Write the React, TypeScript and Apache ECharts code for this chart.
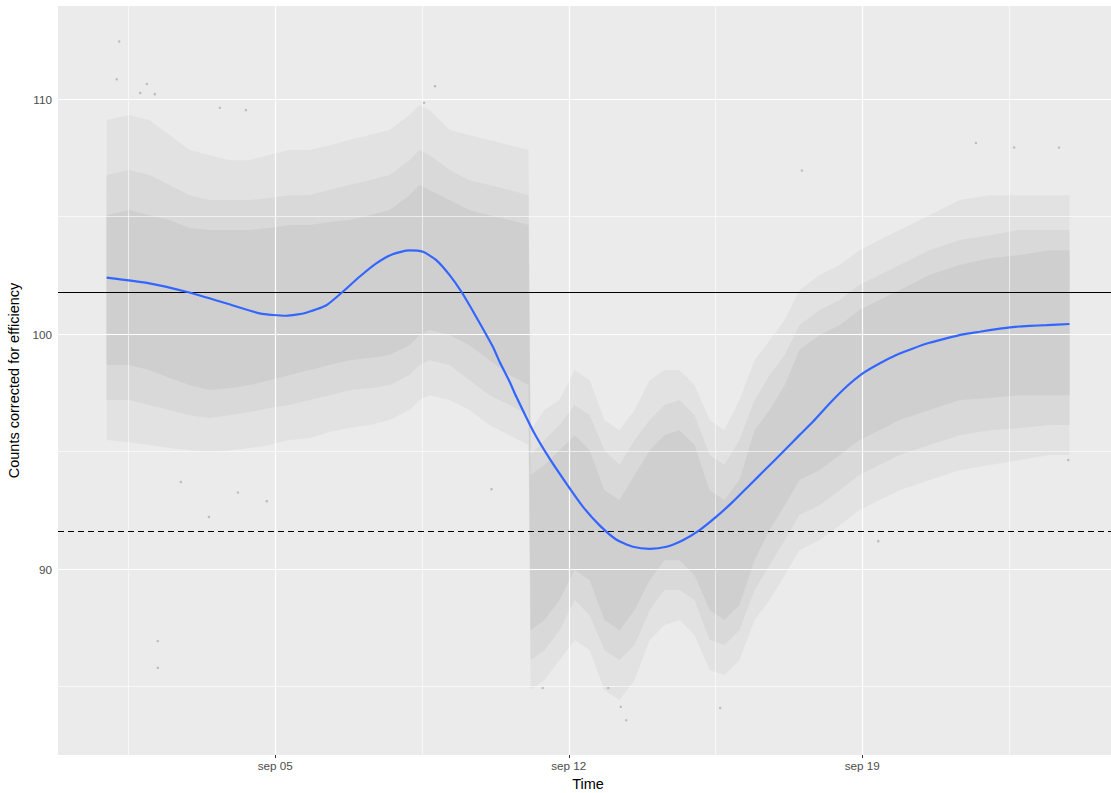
import { useEffect, useRef } from 'react';
import * as echarts from 'echarts';

// ---- axes (x = day of September, 1 = Sep 1 00:00) ----
const xMajorTicks = [5, 12, 19];
const xMajorLabels = ['sep 05', 'sep 12', 'sep 19'];
const xMinorGrid = [1.5, 8.5, 15.5, 22.5];
const yMajorTicks = [90, 100, 110];
const yMinorGrid = [85, 95, 105];
const xRange = [-0.18, 24.93];
const yRange = [82.09, 113.96];

// ---- horizontal reference lines ----
const referenceLevel = 101.79;
const thresholdLevel = 91.62;

// ---- smoothed trend (blue) ----
const smoothX = [0.98, 2.0, 2.88, 3.83, 4.63, 5.26, 5.74, 6.22, 6.61, 7.01, 7.41, 7.8, 8.2, 8.52, 8.84, 9.16, 9.44, 9.79, 10.19, 10.35, 10.59, 10.75, 11.14, 11.54, 11.94, 12.34, 12.73, 13.13, 13.53, 13.93, 14.33, 14.72, 15.12, 15.52, 15.91, 16.31, 16.71, 17.11, 17.5, 17.82, 18.22, 18.62, 19.01, 19.41, 19.81, 20.21, 20.6, 21.0, 21.4, 21.8, 22.2, 22.59, 22.99, 23.39, 23.94];
const smoothY = [102.4, 102.16, 101.8, 101.31, 100.88, 100.78, 100.91, 101.23, 101.8, 102.44, 103.01, 103.4, 103.56, 103.5, 103.15, 102.51, 101.8, 100.74, 99.46, 98.82, 97.97, 97.33, 95.91, 94.71, 93.65, 92.65, 91.87, 91.26, 90.95, 90.86, 90.95, 91.23, 91.66, 92.23, 92.86, 93.57, 94.28, 94.99, 95.7, 96.27, 97.05, 97.76, 98.33, 98.75, 99.11, 99.39, 99.63, 99.82, 99.99, 100.1, 100.21, 100.3, 100.35, 100.38, 100.43];

// ---- point cloud envelopes ----
const cloudX = [0.98, 1.52, 2.0, 2.48, 2.96, 3.43, 3.91, 4.39, 4.86, 5.34, 5.82, 6.29, 6.77, 7.25, 7.73, 8.2, 8.44, 8.68, 9.16, 9.63, 10.11, 10.59, 11.04, 11.09, 11.42, 11.78, 12.14, 12.5, 12.85, 13.21, 13.57, 13.93, 14.28, 14.64, 15.0, 15.36, 15.71, 16.07, 16.43, 16.79, 17.15, 17.5, 17.98, 18.46, 18.93, 19.41, 19.89, 20.6, 21.32, 22.04, 22.75, 23.47, 23.94];
const cloudOuterHi = [109.11, 109.32, 109.11, 108.47, 107.83, 107.62, 107.4, 107.4, 107.62, 107.83, 107.83, 108.04, 108.26, 108.47, 108.68, 109.32, 109.74, 109.53, 108.68, 108.47, 108.26, 108.04, 107.83, 95.91, 96.77, 97.19, 98.47, 98.04, 96.34, 95.91, 96.77, 98.04, 98.47, 98.47, 97.83, 96.34, 95.91, 97.19, 98.89, 99.74, 100.6, 101.87, 102.51, 102.94, 103.57, 104.0, 104.43, 105.06, 105.7, 105.91, 105.91, 105.91, 105.91];
const cloudMidHi = [106.77, 106.98, 106.77, 106.34, 105.91, 105.7, 105.7, 105.7, 105.79, 105.91, 105.91, 106.13, 106.34, 106.55, 106.77, 107.4, 107.83, 107.62, 106.98, 106.55, 106.34, 106.13, 105.91, 94.85, 95.49, 96.13, 96.98, 96.55, 95.06, 94.43, 95.49, 96.34, 96.98, 97.19, 96.55, 94.85, 94.43, 95.49, 97.19, 98.26, 99.11, 100.38, 101.02, 101.45, 102.09, 102.51, 102.94, 103.57, 104.0, 104.21, 104.43, 104.43, 104.43];
const cloudCoreHi = [105.06, 105.28, 105.06, 104.85, 104.51, 104.43, 104.43, 104.43, 104.51, 104.64, 104.64, 104.77, 104.85, 105.06, 105.28, 105.91, 106.34, 106.13, 105.7, 105.28, 105.06, 104.85, 104.64, 94.0, 94.43, 95.06, 95.7, 95.06, 93.36, 92.94, 94.0, 95.06, 95.7, 95.91, 95.28, 93.36, 92.94, 93.79, 95.91, 96.77, 97.83, 99.32, 99.96, 100.38, 101.02, 101.45, 101.87, 102.51, 102.94, 103.23, 103.36, 103.57, 103.57];
const cloudCoreLo = [98.68, 98.68, 98.47, 98.13, 97.83, 97.62, 97.7, 97.83, 98.04, 98.26, 98.47, 98.68, 98.89, 98.98, 99.11, 99.53, 99.96, 100.17, 99.96, 99.53, 98.89, 98.26, 97.83, 87.4, 87.83, 88.68, 89.96, 89.53, 87.83, 87.4, 88.26, 89.53, 90.38, 90.38, 89.74, 88.26, 87.83, 88.47, 90.38, 91.66, 92.72, 93.79, 94.21, 94.85, 95.49, 95.91, 96.34, 96.77, 97.19, 97.28, 97.4, 97.4, 97.4];
const cloudMidLo = [97.19, 97.19, 96.98, 96.77, 96.55, 96.43, 96.55, 96.68, 96.85, 96.98, 97.19, 97.4, 97.62, 97.7, 97.83, 98.26, 98.68, 98.89, 98.68, 98.04, 97.4, 96.98, 96.55, 86.13, 86.55, 87.4, 88.68, 88.04, 86.55, 86.13, 86.77, 88.26, 89.11, 89.11, 88.68, 86.98, 86.77, 87.4, 89.11, 90.17, 91.23, 92.3, 92.72, 93.36, 94.0, 94.43, 94.85, 95.28, 95.7, 95.91, 96.0, 96.13, 96.13];
const cloudOuterLo = [95.49, 95.4, 95.28, 95.15, 95.06, 94.98, 95.06, 95.15, 95.28, 95.49, 95.57, 95.83, 96.0, 96.13, 96.34, 96.77, 97.19, 97.4, 97.19, 96.77, 96.13, 95.7, 95.28, 84.85, 85.28, 86.13, 86.98, 86.55, 84.85, 84.43, 85.28, 86.98, 87.62, 87.83, 87.19, 85.7, 85.49, 86.13, 87.83, 88.68, 89.74, 90.81, 91.23, 91.87, 92.51, 92.94, 93.36, 93.79, 94.21, 94.43, 94.64, 94.85, 94.85];

// ---- isolated outlying points ----
const outlierX = [1.28, 1.22, 1.78, 1.94, 2.13, 2.2, 2.2, 2.75, 3.42, 4.11, 4.8, 3.68, 4.3, 8.81, 8.55, 10.16, 11.38, 12.94, 13.24, 13.37, 15.61, 17.56, 19.38, 21.71, 22.62, 23.69, 23.91];
const outlierY = [112.45, 110.84, 110.26, 110.64, 110.21, 86.94, 85.8, 93.71, 92.22, 93.26, 92.89, 109.63, 109.53, 110.55, 109.84, 93.4, 84.94, 84.94, 84.14, 83.57, 84.09, 106.96, 91.19, 108.13, 107.94, 107.94, 94.64];

export default function App() {
  const ref = useRef<HTMLDivElement>(null);

  useEffect(() => {
    const chart = echarts.init(ref.current as HTMLDivElement, null, { renderer: 'svg' });
    const font = '"Liberation Sans", Arial, Helvetica, sans-serif';

    const bands = [
      { lo: cloudOuterLo, hi: cloudOuterHi, color: '#e2e2e2' },
      { lo: cloudMidLo, hi: cloudMidHi, color: '#d9d9d9' },
      { lo: cloudCoreLo, hi: cloudCoreHi, color: '#cfcfcf' },
    ];

    const white = (w: number) => ({ color: '#ffffff', width: w, type: 'solid' });
    const gridLines = [
      ...yMinorGrid.map((v) => ({ yAxis: v, lineStyle: white(0.6) })),
      ...xMinorGrid.map((v) => ({ xAxis: v, lineStyle: white(0.6) })),
      ...yMajorTicks.map((v) => ({ yAxis: v, lineStyle: white(1.2) })),
      ...xMajorTicks.map((v) => ({ xAxis: v, lineStyle: white(1.2) })),
    ];

    const option: any = {
      animation: false,
      backgroundColor: '#ffffff',
      textStyle: { fontFamily: font },
      grid: {
        left: 58,
        right: 0,
        top: 6,
        bottom: 38,
        show: true,
        backgroundColor: '#EBEBEB',
        borderWidth: 0,
        outerBoundsMode: 'none',
      },
      xAxis: {
        type: 'value',
        min: xRange[0],
        max: xRange[1],
        axisLine: { show: false },
        axisTick: { show: true, customValues: xMajorTicks, length: 3, lineStyle: { color: '#333333', width: 1 } },
        axisLabel: {
          customValues: xMajorTicks,
          formatter: (v: number) => {
            const i = xMajorTicks.indexOf(Math.round(v));
            return i >= 0 ? xMajorLabels[i] : '';
          },
          color: '#4D4D4D',
          fontSize: 11.7,
          fontFamily: font,
          margin: 4.5,
        },
        splitLine: { show: false },
        name: 'Time',
        nameLocation: 'middle',
        nameGap: 18,
        nameTextStyle: { color: '#000000', fontSize: 14.5, fontFamily: font, padding: [0, 0, 0, 7] },
      },
      yAxis: {
        type: 'value',
        min: yRange[0],
        max: yRange[1],
        axisLine: { show: false },
        axisTick: { show: true, customValues: yMajorTicks, length: 3, lineStyle: { color: '#333333', width: 1 } },
        axisLabel: {
          customValues: yMajorTicks,
          formatter: (v: number) => String(Math.round(v)),
          color: '#4D4D4D',
          fontSize: 11.7,
          fontFamily: font,
          margin: 6,
        },
        splitLine: { show: false },
        name: 'Counts corrected for efficiency',
        nameLocation: 'middle',
        nameGap: 33,
        nameTextStyle: { color: '#000000', fontSize: 14.5, fontFamily: font },
      },
      series: [
        {
          type: 'line',
          name: 'grid',
          data: [],
          z: 1,
          silent: true,
          markLine: { silent: true, symbol: ['none', 'none'], label: { show: false }, data: gridLines },
        },
        {
          type: 'custom',
          name: 'cloud',
          z: 2,
          clip: true,
          silent: true,
          data: bands.map((_, i) => [i]),
          renderItem: (params: any, api: any) => {
            const b = bands[params.dataIndex];
            const pts: number[][] = [];
            for (let i = 0; i < cloudX.length; i++) pts.push(api.coord([cloudX[i], b.hi[i]]));
            for (let i = cloudX.length - 1; i >= 0; i--) pts.push(api.coord([cloudX[i], b.lo[i]]));
            return { type: 'polygon', shape: { points: pts }, style: { fill: b.color } };
          },
        },
        {
          type: 'scatter',
          name: 'outliers',
          z: 3,
          silent: true,
          symbolSize: 2.5,
          itemStyle: { color: '#b0b0b0' },
          data: outlierX.map((x, i) => [x, outlierY[i]]),
        },
        {
          type: 'line',
          name: 'levels',
          data: [],
          z: 4,
          silent: true,
          markLine: {
            silent: true,
            symbol: ['none', 'none'],
            label: { show: false },
            data: [
              { yAxis: referenceLevel, lineStyle: { color: '#000000', width: 1.1, type: 'solid' } },
              { yAxis: thresholdLevel, lineStyle: { color: '#000000', width: 1.1, type: [6, 4] } },
            ],
          },
        },
        {
          type: 'line',
          name: 'trend',
          z: 5,
          silent: true,
          smooth: 0.2,
          showSymbol: false,
          lineStyle: { color: '#3366FF', width: 2.2 },
          data: smoothX.map((x, i) => [x, smoothY[i]]),
        },
      ],
    };

    chart.setOption(option);
    return () => chart.dispose();
  }, []);

  return (
    <div
      ref={ref}
      style={{ position: 'fixed', left: 0, top: 0, width: 1111, height: 793, background: '#ffffff' }}
    />
  );
}
